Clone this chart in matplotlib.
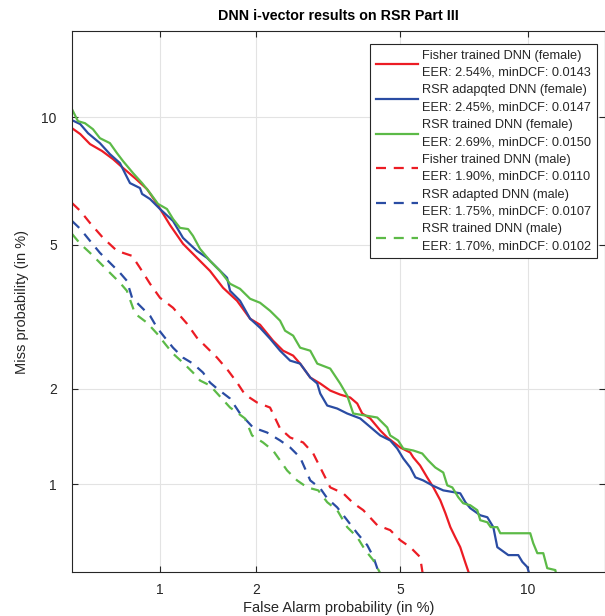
from statistics import NormalDist
import numpy as np
import matplotlib
matplotlib.use('Agg')
import matplotlib.pyplot as plt

# Valores (em %): probabilidade de falso alarme x probabilidade de perda
fisher_f_fa = [0.50, 0.535, 0.579, 0.638, 0.696, 0.753, 0.827, 0.907, 0.979, 1.079, 1.189, 1.317,
               1.448, 1.590, 1.755, 1.922, 2.058, 2.248, 2.405, 2.571, 2.692, 2.876, 3.067, 3.269,
               3.480, 3.706, 3.870, 3.99, 4.19, 4.45, 4.64, 5.01, 5.31, 5.405, 5.62, 5.85, 6.06,
               6.30, 6.48, 6.66, 6.84, 7.03, 7.23, 7.42]
fisher_f_miss = [9.46, 9.18, 8.72, 8.41, 8.06, 7.69, 7.28, 6.86, 6.32, 5.61, 5.03, 4.63, 4.28,
                 3.86, 3.561, 3.179, 3.058, 2.758, 2.582, 2.499, 2.369, 2.156, 2.07, 1.972, 1.918,
                 1.879, 1.802, 1.680, 1.622, 1.489, 1.415, 1.316, 1.268, 1.223, 1.152, 1.054, 0.977,
                 0.885, 0.801, 0.718, 0.663, 0.612, 0.539, 0.48]

adapt_f_fa = [0.50, 0.535, 0.570, 0.627, 0.679, 0.735, 0.764, 0.795, 0.859, 0.873, 0.928, 1.001,
              1.104, 1.189, 1.317, 1.417, 1.523, 1.636, 1.671, 1.792, 1.922, 2.058, 2.203, 2.357,
              2.520, 2.692, 2.876, 3.009, 3.067, 3.207, 3.416, 3.637, 3.942, 4.45, 4.723, 4.923,
              5.099, 5.31, 5.47, 5.721, 6.021, 6.404, 7.03, 7.23, 7.42, 7.83, 8.126, 8.385, 8.561,
              9.06, 9.53, 9.73, 9.97, 10.12]
adapt_f_miss = [9.85, 9.656, 9.22, 8.763, 8.276, 7.893, 7.484, 7.089, 6.899, 6.68, 6.494, 6.142,
                5.740, 5.207, 4.825, 4.63, 4.361, 4.105, 3.789, 3.561, 3.179, 3.0, 2.794, 2.582,
                2.417, 2.369, 2.156, 2.07, 1.932, 1.777, 1.740, 1.680, 1.622, 1.436, 1.385, 1.306,
                1.214, 1.135, 1.054, 1.030, 0.992, 0.955, 0.934, 0.872, 0.833, 0.788, 0.776, 0.718,
                0.612, 0.574, 0.574, 0.543, 0.521, 0.48]

rsr_f_fa = [0.50, 0.525, 0.556, 0.593, 0.627, 0.679, 0.718, 0.753, 0.814, 0.873, 0.928, 0.986,
            1.055, 1.104, 1.163, 1.234, 1.280, 1.347, 1.448, 1.556, 1.671, 1.792, 1.922, 2.058,
            2.203, 2.357, 2.437, 2.571, 2.692, 2.876, 3.009, 3.269, 3.480, 3.637, 3.776, 4.371,
            4.64, 4.723, 4.947, 5.099, 5.405, 5.689, 5.886, 6.125, 6.404, 6.548, 6.732, 6.956,
            7.145, 7.42, 7.706, 7.83, 8.126, 8.271, 8.561, 8.696, 10.12, 10.27, 10.48, 10.79,
            11.00, 11.44, 11.5]
rsr_f_miss = [10.40, 9.80, 9.70, 9.41, 8.99, 8.763, 8.319, 7.977, 7.484, 7.089, 6.714, 6.32,
              6.142, 5.805, 5.517, 5.48, 5.268, 4.883, 4.548, 4.28, 3.957, 3.836, 3.606, 3.517,
              3.344, 3.139, 2.943, 2.850, 2.634, 2.582, 2.369, 2.291, 2.07, 1.905, 1.680, 1.633,
              1.521, 1.436, 1.385, 1.306, 1.287, 1.259, 1.196, 1.135, 1.093, 0.992, 0.977, 0.906,
              0.865, 0.852, 0.820, 0.758, 0.746, 0.718, 0.718, 0.684, 0.684, 0.632, 0.583, 0.583,
              0.516, 0.508, 0.48]

fisher_m_fa = [0.50, 0.535, 0.579, 0.643, 0.718, 0.808, 0.859, 0.928, 1.001, 1.104, 1.225, 1.317,
               1.417, 1.523, 1.647, 1.755, 1.855, 2.018, 2.203, 2.357, 2.520, 2.745, 2.932, 3.067,
               3.269, 3.547, 3.776, 4.016, 4.371, 4.723, 5.01, 5.31, 5.62, 5.721]
fisher_m_miss = [6.351, 6.077, 5.674, 5.207, 4.825, 4.684, 4.361, 3.957, 3.628, 3.408, 3.078,
                 2.812, 2.634, 2.466, 2.262, 2.084, 1.918, 1.814, 1.752, 1.510, 1.415, 1.365,
                 1.259, 1.135, 0.977, 0.934, 0.866, 0.820, 0.729, 0.701, 0.647, 0.612, 0.565, 0.48]

adapt_m_fa = [0.50, 0.535, 0.579, 0.627, 0.679, 0.735, 0.776, 0.808, 0.859, 0.928, 0.979, 1.039,
              1.104, 1.189, 1.280, 1.377, 1.448, 1.523, 1.671, 1.792, 1.961, 2.158, 2.357, 2.520,
              2.692, 2.876, 3.067, 3.207, 3.416, 3.637, 3.870, 4.114, 4.267, 4.45]
adapt_m_miss = [5.740, 5.486, 5.117, 4.769, 4.495, 4.231, 4.030, 3.628, 3.451, 3.240, 3.0, 2.812,
                2.634, 2.466, 2.369, 2.230, 2.084, 2.000, 1.866, 1.680, 1.521, 1.467, 1.385,
                1.316, 1.223, 1.030, 0.970, 0.899, 0.838, 0.758, 0.684, 0.622, 0.567, 0.48]

rsr_m_fa = [0.50, 0.535, 0.579, 0.627, 0.679, 0.735, 0.776, 0.827, 0.907, 0.979, 1.039, 1.104,
            1.189, 1.280, 1.347, 1.448, 1.671, 1.755, 1.855, 1.948, 2.100, 2.248, 2.357, 2.470,
            2.639, 2.819, 3.028, 3.207, 3.416, 3.637, 3.870, 4.065, 4.267, 4.504]
rsr_m_miss = [5.329, 5.03, 4.769, 4.495, 4.231, 3.982, 3.789, 3.282, 3.098, 2.887, 2.704, 2.532,
              2.384, 2.230, 2.113, 2.042, 1.752, 1.692, 1.622, 1.436, 1.365, 1.287, 1.196, 1.110,
              1.030, 0.977, 0.955, 0.872, 0.820, 0.718, 0.663, 0.597, 0.551, 0.48]

labels = ['Fisher trained DNN (female)\nEER: 2.54%, minDCF: 0.0143',
          'RSR adapqted DNN (female)\nEER: 2.45%, minDCF: 0.0147',
          'RSR trained DNN (female)\nEER: 2.69%, minDCF: 0.0150',
          'Fisher trained DNN (male)\nEER: 1.90%, minDCF: 0.0110',
          'RSR adapted DNN (male)\nEER: 1.75%, minDCF: 0.0107',
          'RSR trained DNN (male)\nEER: 1.70%, minDCF: 0.0102']
ticks = [1, 2, 5, 10]

# Escala normal (probit) do grafico DET
_nd = NormalDist()
_ppf = np.vectorize(_nd.inv_cdf, otypes=[float])
_cdf = np.vectorize(_nd.cdf, otypes=[float])


def forward(p):
    p = np.clip(np.asarray(p, dtype=float) / 100.0, 1e-9, 1 - 1e-9)
    return _ppf(p)


def inverse(z):
    return _cdf(np.asarray(z, dtype=float)) * 100.0


plt.rcParams['font.family'] = ['Liberation Sans', 'DejaVu Sans']
dark = '#262626'
red, blue, green = '#ec1c24', '#2a4ca3', '#5cba47'

fig = plt.figure(figsize=(6.05, 6.16), dpi=100)
ax = fig.add_axes([72 / 605, 44 / 616, 533 / 605, 541 / 616])
ax.set_xscale('function', functions=(forward, inverse))
ax.set_yscale('function', functions=(forward, inverse))

series = [(fisher_f_fa, fisher_f_miss, red, '-'),
          (adapt_f_fa, adapt_f_miss, blue, '-'),
          (rsr_f_fa, rsr_f_miss, green, '-'),
          (fisher_m_fa, fisher_m_miss, red, '--'),
          (adapt_m_fa, adapt_m_miss, blue, '--'),
          (rsr_m_fa, rsr_m_miss, green, '--')]
for (fa, miss, color, ls), label in zip(series, labels):
    line, = ax.plot(fa, miss, color=color, linestyle=ls, linewidth=1.6, label=label)
    if ls == '--':
        line.set_dashes((4.5, 3.5))

ax.set_xlim(0.5, 14.4)
ax.set_ylim(0.5, 15)
ax.set_xticks(ticks)
ax.set_xticklabels([str(t) for t in ticks])
ax.set_yticks(ticks)
ax.set_yticklabels([str(t) for t in ticks])
ax.minorticks_off()
ax.grid(True, color='#e3e3e3', linewidth=0.8)
ax.set_axisbelow(True)
ax.tick_params(direction='in', length=4, width=0.8, colors=dark, labelsize=10,
               top=True, right=True)
ax.tick_params(axis='x', pad=8)
ax.tick_params(axis='y', pad=11)
for s in ax.spines.values():
    s.set_color(dark)
    s.set_linewidth(0.8)

ax.set_title('DNN i-vector results on RSR Part III', fontsize=10.3, fontweight='bold',
             color='black', pad=8)
ax.set_xlabel('False Alarm probability (in %)', fontsize=10.5, color=dark, labelpad=3)
ax.set_ylabel('Miss probability (in %)', fontsize=10.5, color=dark, labelpad=9)

leg = ax.legend(loc='upper right', bbox_to_anchor=(0.985, 0.976), borderaxespad=0,
                fontsize=9.2, handlelength=3.3, handletextpad=0.3, labelspacing=0.45,
                fancybox=False, framealpha=1, edgecolor=dark, borderpad=0.45)
leg.get_frame().set_linewidth(0.8)
for t in leg.get_texts():
    t.set_linespacing(1.55)
    t.set_color(dark)

fig.savefig('out.png', dpi=100)
